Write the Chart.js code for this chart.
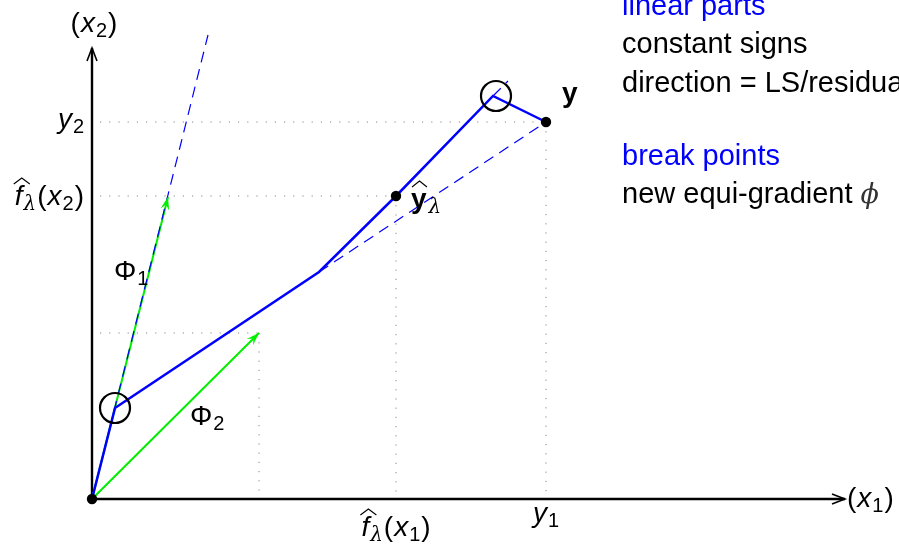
<!DOCTYPE html>
<html>
<head>
<meta charset="utf-8">
<script src="https://cdn.jsdelivr.net/npm/chart.js@4/dist/chart.umd.min.js"></script>
<style>
  body { margin: 0; background: #fff; }
  canvas { display: block; }
</style>
</head>
<body>
<canvas id="chart" width="899" height="544"></canvas>
<script>
// path of the estimate (break points), in plot units
const pathX = [0, 23, 227, 304, 401, 454];
const pathY = [0, 91, 227, 303, 403, 377];

// equi-gradient directions
const phi1X = [0, 76];
const phi1Y = [0, 302];
const phi2X = [0, 167];
const phi2Y = [0, 166];

// dashed extensions
const dash1X = [0, 116];
const dash1Y = [0, 464];
const dash2X = [227, 454];
const dash2Y = [227, 377];
const dash3X = [401, 416];
const dash3Y = [403, 418];

// marked points: origin, y-hat, y
const dotX = [0, 304, 454];
const dotY = [0, 303, 377];

// break point circles
const ringX = [23, 404];
const ringY = [91, 403];

// dotted guide levels
const guideX = [167, 304, 454];
const guideY = [166, 303, 377];

// axis ends
const xAxisEnd = 753;
const yAxisEnd = 451;

const toPts = (xs, ys) => xs.map((x, i) => ({ x: x, y: ys[i] }));

const datasets = [];

// dotted guides
guideX.forEach((gx, i) => {
  datasets.push({ data: toPts([8, gx], [guideY[i], guideY[i]]), borderColor: '#888', borderWidth: 1, borderDash: [1.2, 8], showLine: true, pointRadius: 0, order: 6 });
  datasets.push({ data: toPts([gx, gx], [guideY[i], 4]), borderColor: '#888', borderWidth: 1, borderDash: [1.2, 8], showLine: true, pointRadius: 0, order: 6 });
});

datasets.push({ data: toPts(phi1X, phi1Y), borderColor: '#00ee00', borderWidth: 2, showLine: true, pointRadius: 0, order: 5 });
datasets.push({ data: toPts(phi2X, phi2Y), borderColor: '#00ee00', borderWidth: 2, showLine: true, pointRadius: 0, order: 5 });

[[dash1X, dash1Y], [dash2X, dash2Y], [dash3X, dash3Y]].forEach(d => {
  datasets.push({ data: toPts(d[0], d[1]), borderColor: '#0000ff', borderWidth: 1.2, borderDash: [11, 7], showLine: true, pointRadius: 0, order: 4 });
});

datasets.push({ data: toPts(pathX, pathY), borderColor: '#0000ff', borderWidth: 2.5, showLine: true, pointRadius: 0, order: 3 });
datasets.push({ data: toPts(ringX, ringY), pointRadius: 15, borderColor: '#000', borderWidth: 2.2, backgroundColor: 'rgba(0,0,0,0)', showLine: false, order: 2 });
datasets.push({ data: toPts(dotX, dotY), pointRadius: 5.2, borderWidth: 0, backgroundColor: '#000', showLine: false, order: 1 });

const SANS = '"Liberation Sans", Arial, Helvetica, sans-serif';
const BIG = 28, SUB = 20;

// draws a run of text pieces: [text, style, dy, gapAfter]
function drawRun(ctx, parts, x, y, align) {
  let w = 0;
  parts.forEach(p => {
    ctx.font = p[1];
    p.w = ctx.measureText(p[0]).width + (p[3] || 0);
    w += p.w;
  });
  let cx = align === 'right' ? x - w : align === 'center' ? x - w / 2 : x;
  const starts = [];
  parts.forEach(p => {
    ctx.font = p[1];
    ctx.fillText(p[0], cx, y + (p[2] || 0));
    starts.push(cx);
    cx += p.w;
  });
  return starts;
}

function hat(ctx, x, y, w) {
  ctx.beginPath();
  ctx.moveTo(x, y);
  ctx.lineTo(x + w / 2, y - 6);
  ctx.lineTo(x + w, y);
  ctx.lineWidth = 1.1;
  ctx.strokeStyle = '#000';
  ctx.stroke();
}

function arrowHead(ctx, x0, y0, x1, y1, len, half, filled, color) {
  const a = Math.atan2(y1 - y0, x1 - x0);
  const bx = x1 - len * Math.cos(a), by = y1 - len * Math.sin(a);
  const nx = -Math.sin(a) * half, ny = Math.cos(a) * half;
  ctx.beginPath();
  ctx.moveTo(bx + nx, by + ny);
  ctx.lineTo(x1, y1);
  ctx.lineTo(bx - nx, by - ny);
  if (filled) {
    ctx.lineTo(x1 - len * 0.6 * Math.cos(a), y1 - len * 0.6 * Math.sin(a));
    ctx.closePath();
    ctx.fillStyle = color;
    ctx.fill();
  } else {
    ctx.strokeStyle = color;
    ctx.lineWidth = 1.6;
    ctx.stroke();
  }
}

const decor = {
  id: 'decor',
  beforeDatasetsDraw(chart) {
    const ctx = chart.ctx;
    const X = v => chart.scales.x.getPixelForValue(v);
    const Y = v => chart.scales.y.getPixelForValue(v);
    ctx.save();
    ctx.strokeStyle = '#000';
    ctx.lineWidth = 2.4;
    ctx.beginPath();
    ctx.moveTo(X(0), Y(0)); ctx.lineTo(X(xAxisEnd), Y(0));
    ctx.moveTo(X(0), Y(0)); ctx.lineTo(X(0), Y(yAxisEnd));
    ctx.stroke();
    arrowHead(ctx, X(0), Y(0), X(xAxisEnd), Y(0), 13, 5, false, '#000');
    arrowHead(ctx, X(0), Y(0), X(0), Y(yAxisEnd), 13, 5, false, '#000');
    ctx.restore();
  },
  afterDatasetsDraw(chart) {
    const ctx = chart.ctx;
    const X = v => chart.scales.x.getPixelForValue(v);
    const Y = v => chart.scales.y.getPixelForValue(v);
    ctx.save();
    // green arrow heads
    [[phi1X, phi1Y], [phi2X, phi2Y]].forEach(d => {
      arrowHead(ctx, X(d[0][0]), Y(d[1][0]), X(d[0][1]), Y(d[1][1]), 13, 4.5, true, '#00ee00');
    });

    ctx.fillStyle = '#000';
    ctx.textBaseline = 'alphabetic';
    const it = 'italic ' + BIG + 'px ' + SANS;
    const rm = BIG + 'px ' + SANS;
    const sb = SUB + 'px ' + SANS;
    const lam = 'italic ' + SUB + 'px "DejaVu Serif", serif';

    // axis names
    drawRun(ctx, [['(', rm, 0, 1], ['x', it, 0, 1], ['2', sb, 5, 1], [')', rm]], X(2), Y(yAxisEnd + 16), 'center');
    drawRun(ctx, [['(', rm, 0, 1], ['x', it, 0, 1], ['1', sb, 5, 1], [')', rm]], X(xAxisEnd + 2), Y(-8), 'left');

    // y tick labels
    drawRun(ctx, [['y', it, 0, 1], ['2', sb, 5]], X(-8), Y(guideY[2] - 6), 'right');
    let s = drawRun(ctx, [['f', it, 0, 1], ['\u03bb', lam, 5, 1], ['(', rm, 0, 1], ['x', it, 0, 1], ['2', sb, 5, 1], [')', rm]], X(-8), Y(guideY[1] - 9), 'right');
    hat(ctx, s[0] - 1, Y(guideY[1] - 9) - 21, 16);

    // x tick labels
    s = drawRun(ctx, [['f', it, 0, 1], ['\u03bb', lam, 5, 1], ['(', rm, 0, 1], ['x', it, 0, 1], ['1', sb, 5, 1], [')', rm]], X(guideX[1]), Y(-37), 'center');
    hat(ctx, s[0] - 1, Y(-37) - 21, 16);
    drawRun(ctx, [['y', it, 0, 1], ['1', sb, 5]], X(guideX[2]), Y(-23), 'center');

    // direction labels
    drawRun(ctx, [['\u03a6', rm, 0, 1], ['1', sb, 5]], X(22), Y(219), 'left');
    drawRun(ctx, [['\u03a6', rm, 0, 1], ['2', sb, 5]], X(98), Y(74), 'left');

    // point labels
    const bd = 'bold ' + BIG + 'px ' + SANS;
    s = drawRun(ctx, [['y', bd, 0, 2], ['\u03bb', lam, 5]], X(dotX[1] + 15), Y(dotY[1] - 12), 'left');
    hat(ctx, s[0] + 1, Y(dotY[1] - 12) - 21, 15);
    drawRun(ctx, [['y', bd]], X(dotX[2] + 16), Y(dotY[2] + 20), 'left');

    // notes on the right
    const nf = '29px ' + SANS;
    ctx.fillStyle = '#0000ff';
    drawRun(ctx, [['linear parts', nf]], 622, 15, 'left');
    drawRun(ctx, [['break points', nf]], 622, 165, 'left');
    ctx.fillStyle = '#000';
    drawRun(ctx, [['constant signs', nf]], 622, 53, 'left');
    drawRun(ctx, [['direction = LS/residual', nf]], 622, 92, 'left');
    drawRun(ctx, [['new equi-gradient ', nf]], 622, 203, 'left');
    ctx.font = nf;
    const w = ctx.measureText('new equi-gradient ').width;
    ctx.fillStyle = '#333';
    ctx.font = 'italic 27px "DejaVu Serif", serif';
    ctx.fillText('\u03d5', 622 + w, 203);
    ctx.restore();
  }
};

new Chart(document.getElementById('chart'), {
  type: 'scatter',
  data: { datasets: datasets },
  options: {
    responsive: false,
    animation: false,
    devicePixelRatio: 1,
    layout: { padding: 0, autoPadding: false },
    plugins: { legend: { display: false }, tooltip: { enabled: false } },
    scales: {
      x: { type: 'linear', min: -92, max: 807, display: false },
      y: { type: 'linear', min: -45, max: 499, display: false }
    }
  },
  plugins: [decor]
});
</script>
</body>
</html>
